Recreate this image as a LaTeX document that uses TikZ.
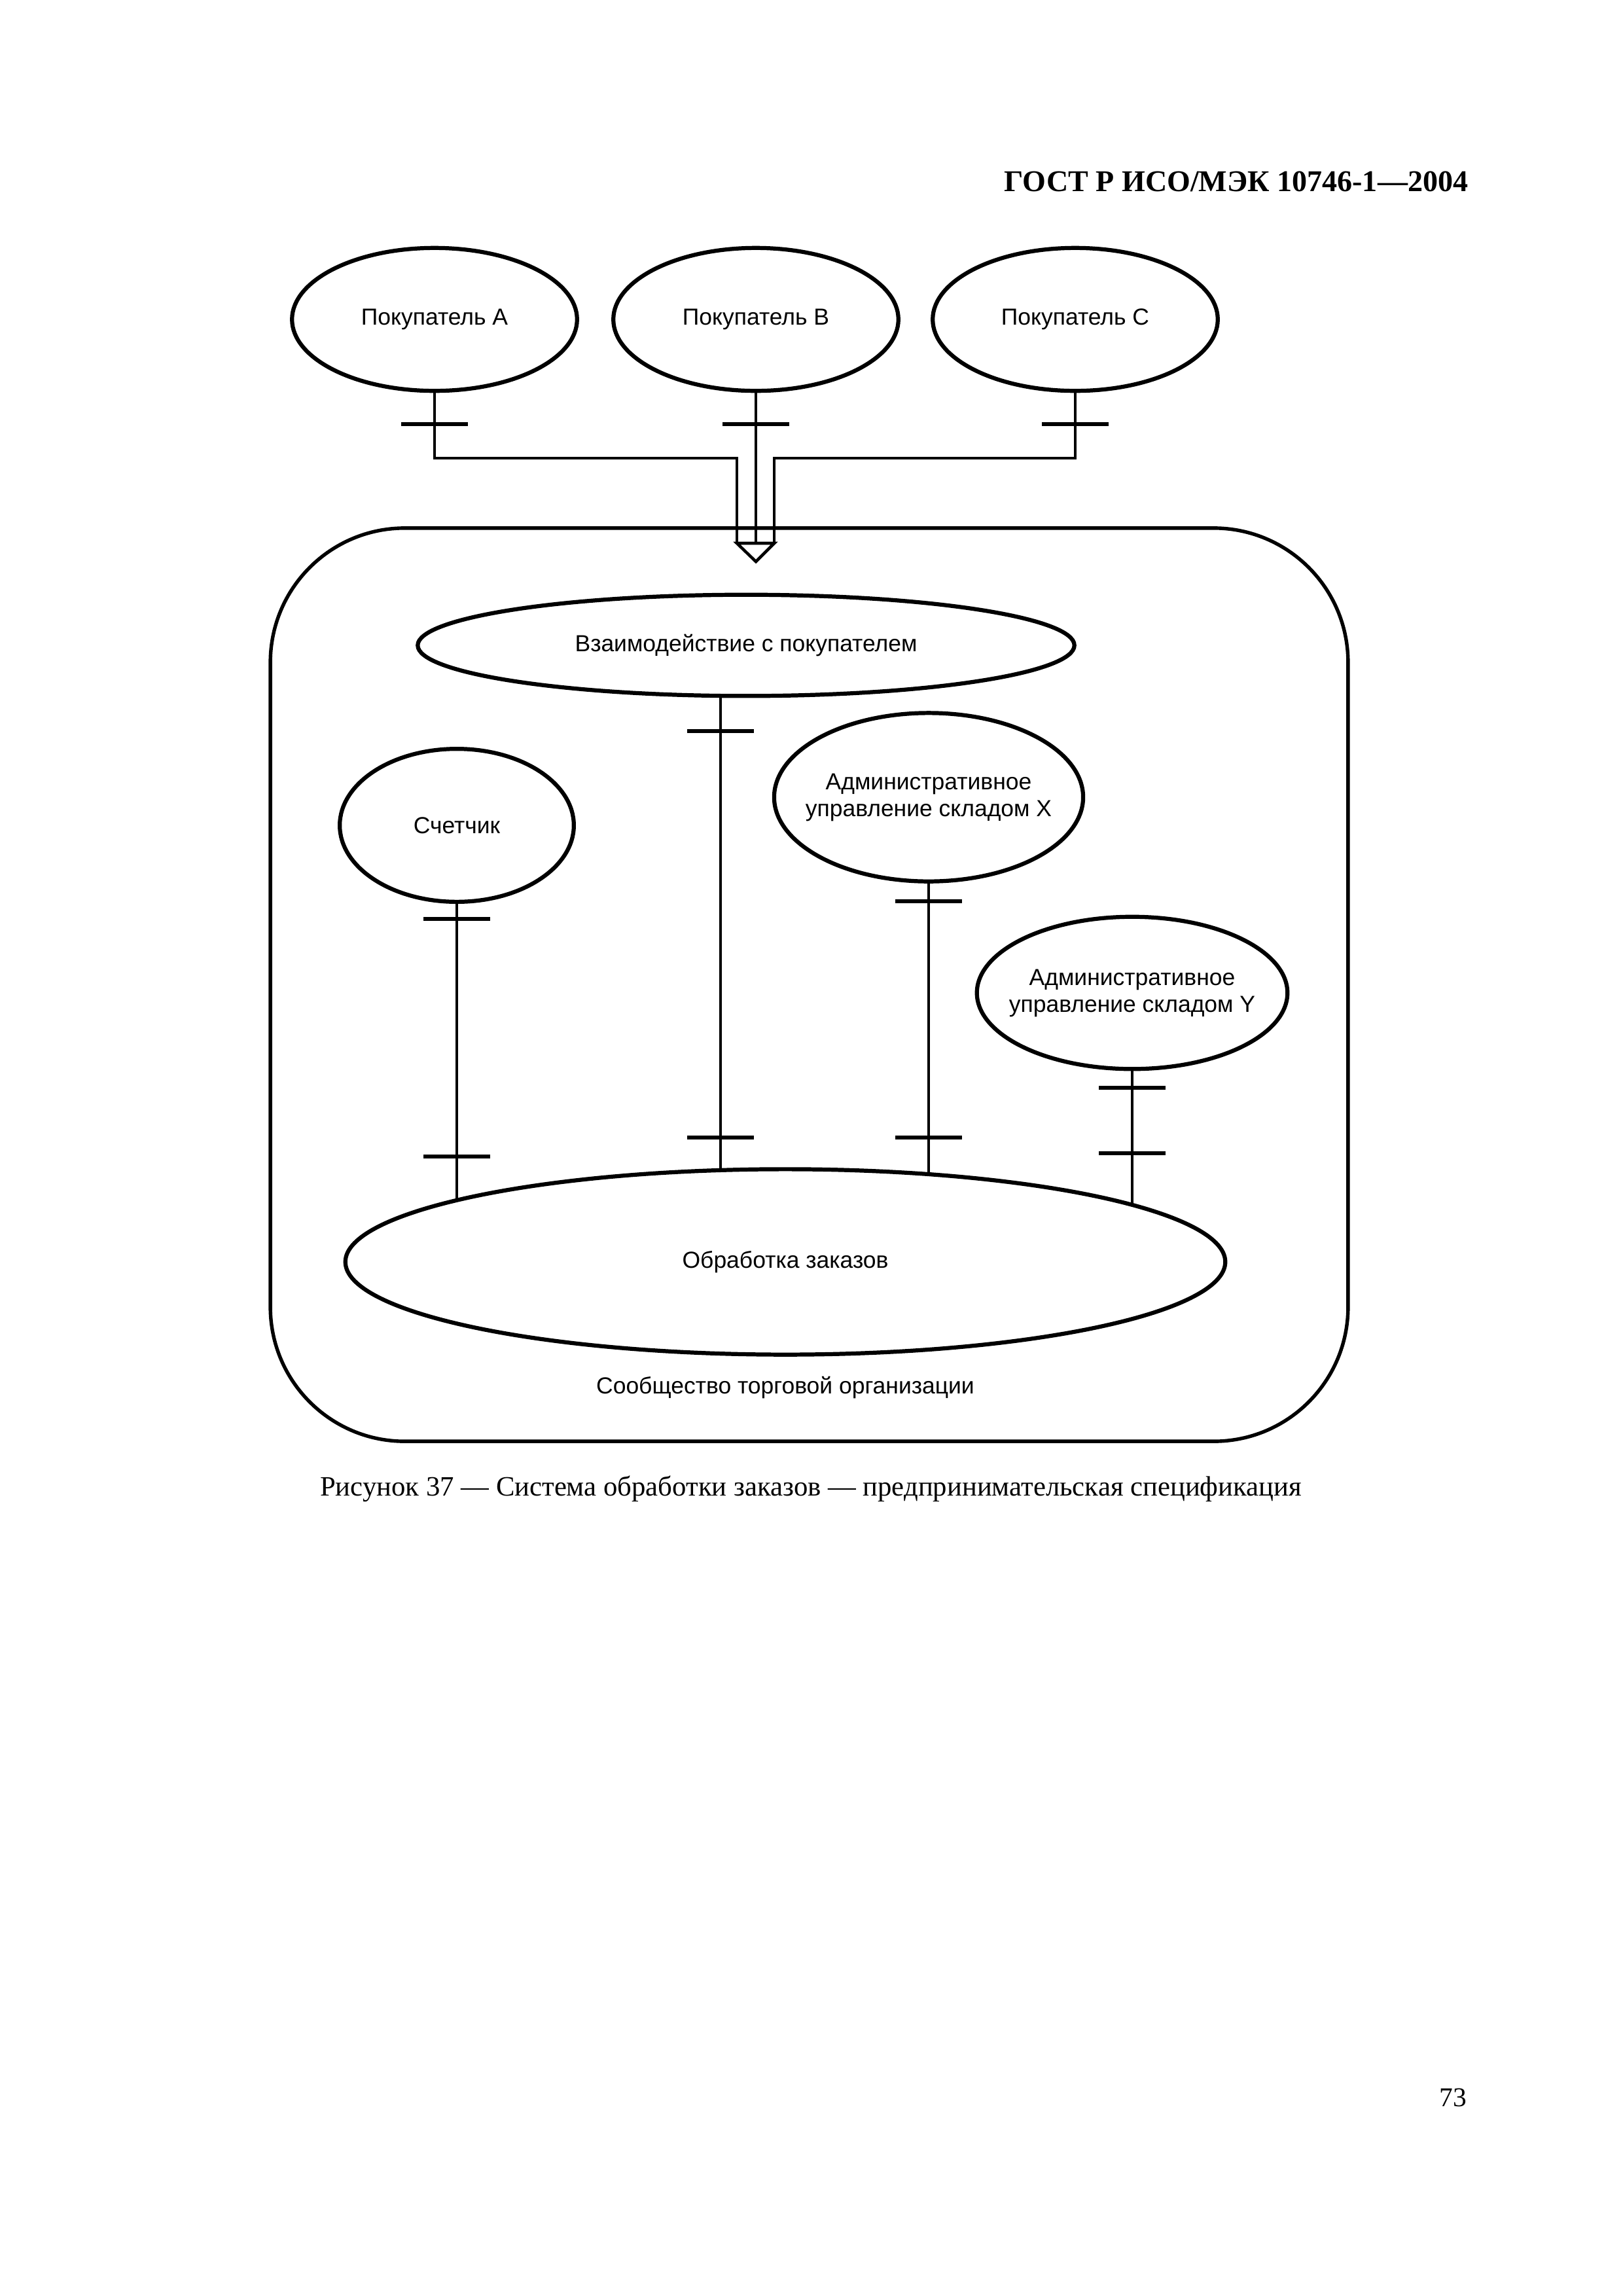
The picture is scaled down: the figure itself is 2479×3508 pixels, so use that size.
\documentclass[tikz,border=0pt]{standalone}
\usepackage{fontspec}
\setmainfont{Liberation Sans}
\newfontfamily\tms{Liberation Serif}
\usetikzlibrary{shapes.geometric}

\begin{document}
\begin{tikzpicture}[x=0.084711mm,y=-0.084711mm,
  e/.style={ellipse,draw,line width=1.5pt,inner sep=0pt},
  l/.style={font=\fontsize{8.55}{9.9}\selectfont,align=center},
  c/.style={line width=1.1pt},
  t/.style={fill,inner sep=0pt,minimum width=8.64mm,minimum height=0.45mm},
  txt/.style={inner sep=0pt}]
  \useasboundingbox (0,0) rectangle (2479,3508);

  \node[txt,font=\tms\bfseries\fontsize{11.1}{13}\selectfont,anchor=base east] (hd) at (2244,292) {ГОСТ Р ИСО/МЭК 10746-1—2004};

  % customers
  \node[e,minimum width=36.9mm,minimum height=18.5mm,label={[l]center:Покупатель A}] (pa) at (664,488) {};
  \node[e,minimum width=36.9mm,minimum height=18.5mm,label={[l]center:Покупатель B}] (pb) at (1155,488) {};
  \node[e,minimum width=36.9mm,minimum height=18.5mm,label={[l]center:Покупатель C}] (pc) at (1643,488) {};

  \node[draw,line width=1.3pt,rounded corners=17.4mm,minimum width=139.5mm,minimum height=118.2mm] (org) at (1236.5,1504.5) {};
  \node[l] (orgl) at (1200,2120) {Сообщество торговой организации};

  \coordinate (hl) at (1126,700);
  \coordinate (hr) at (1183,700);
  \coordinate (bl) at (1126,830);
  \coordinate (br) at (1183,830);
  \coordinate (tip) at (1155,858);
  \draw[c] (pa.south) |- (hl) -- (bl);
  \draw[c] (pc.south) |- (hr) -- (br);
  \draw[c] (pb.south) -- (pb.south |- bl);
  \draw[c] (bl) -- (br) -- (tip) -- cycle;
  \node[t] (ta) at (pa.south |- 0,648) {};
  \node[t] (tb) at (pb.south |- 0,648) {};
  \node[t] (tc) at (pc.south |- 0,648) {};

  % inner objects
  \node[e,minimum width=85mm,minimum height=13.1mm,label={[l]center:Взаимодействие с покупателем}] (vz) at (1140,986) {};
  \node[e,minimum width=30.3mm,minimum height=19.8mm,label={[l]center:Счетчик}] (sc) at (698,1261) {};
  \node[e,minimum width=40mm,minimum height=21.8mm,label={[l]center:Административное\\управление складом X}] (ax) at (1419,1218) {};
  \node[e,minimum width=40.2mm,minimum height=19.7mm,label={[l]center:Административное\\управление складом Y}] (ay) at (1730,1517) {};
  \node[e,minimum width=113.9mm,minimum height=24mm,label={[l]center:Обработка заказов}] (ob) at (1200,1928) {};

  \draw[c] (sc.south) -- (sc.south |- ob.169);
  \draw[c] (vz.244) -- (vz.244 |- ob.125);
  \draw[c] (ax.south) -- (ax.south |- ob.31);
  \draw[c] (ay.south) -- (ay.south |- ob.9);

  \node[t] (ts1) at (sc.south |- 0,1404) {};
  \node[t] (ts2) at (sc.south |- 0,1767) {};
  \node[t] (tv1) at (vz.244 |- 0,1117) {};
  \node[t] (tv2) at (vz.244 |- 0,1738) {};
  \node[t] (tx1) at (ax.south |- 0,1377) {};
  \node[t] (tx2) at (ax.south |- 0,1738) {};
  \node[t] (ty1) at (ay.south |- 0,1662) {};
  \node[t] (ty2) at (ay.south |- 0,1762) {};

  \node[txt,font=\tms\fontsize{10.3}{12}\selectfont,anchor=base] (cap) at (1239,2285) {Рисунок 37 — Система обработки заказов — предпринимательская спецификация};
  \node[txt,font=\tms\fontsize{10}{12}\selectfont,anchor=base east] (pg) at (2242,3218) {73};
\end{tikzpicture}
\end{document}
